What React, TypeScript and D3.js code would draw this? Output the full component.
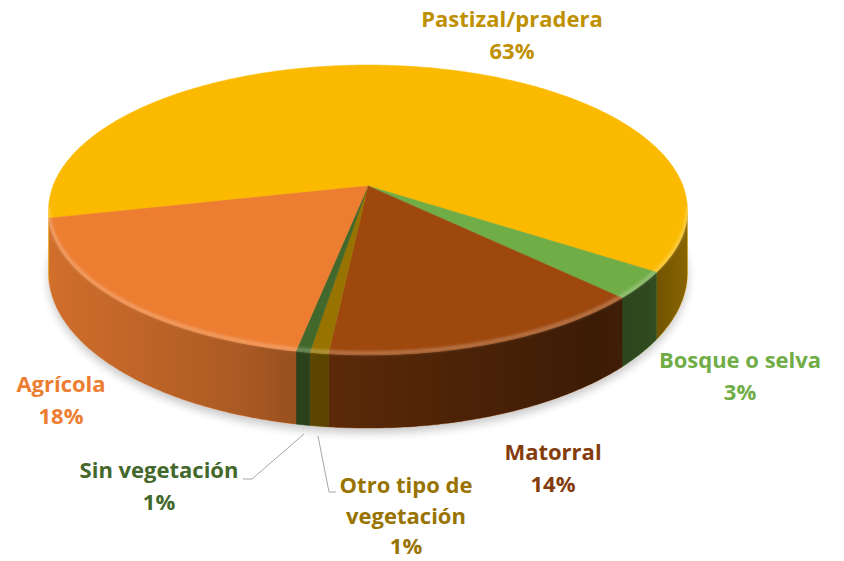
import React from "react";
import * as d3 from "d3";

// slice order clockwise, as in the source workbook
const categories = ["Pastizal/pradera", "Bosque o selva", "Matorral", "Otro tipo de vegetación", "Sin vegetación", "Agrícola"];
const values = [62.9, 3.0, 14.3, 0.8, 0.6, 18.4];
const topColors = ["#FBBA00", "#70AD47", "#9E480E", "#997300", "#43682B", "#ED7D31"];
const labelColors = ["#BF9000", "#70AD47", "#843C0C", "#997300", "#43682B", "#ED7D31"];
const labelLines = [["Pastizal/pradera"], ["Bosque o selva"], ["Matorral"], ["Otro tipo de", "vegetación"], ["Sin vegetación"], ["Agrícola"]];

// layout
const W = 844;
const HT = 561;
const cx = 368;
const cy = 186;
const R = 315; // horizontal radius at centre depth
const B = 141; // depth radius
const D = 6.04; // perspective distance (in radii)
const DEPTH = 61;
const START = (257.3 * Math.PI) / 180;
const VIS_L = (99.6 * Math.PI) / 180;
const VIS_R = (260.4 * Math.PI) / 180;
const labelPos: [number, number][] = [
  [512, 27],
  [740, 368],
  [553, 460],
  [406, 493],
  [159, 478],
  [61, 392],
];
const lineGap = [32, 32, 32, 30.5, 32, 32];

function project(theta: number, drop = 0): [number, number] {
  const u = Math.sin(theta);
  const v = -Math.cos(theta);
  const s = D / (D - v);
  return [cx + R * u * s, cy + B * v * s + drop * s];
}

function sample(a0: number, a1: number, drop = 0) {
  const n = Math.max(2, Math.ceil(Math.abs(a1 - a0) / 0.01));
  return d3.range(n + 1).map((i) => project(a0 + ((a1 - a0) * i) / n, drop));
}

const line = d3.line();

function sidePath(a0: number, a1: number) {
  const top = sample(a0, a1);
  const bot = sample(a0, a1, DEPTH).reverse();
  return line([...top, ...bot]) + "Z";
}

export default function App() {
  const pie = d3
    .pie<number>()
    .sort(null)
    .value((d) => d)
    .startAngle(START)
    .endAngle(START + 2 * Math.PI);
  const arcs = pie(values);

  // visible parts of the side wall
  const sides: { i: number; d: string }[] = [];
  arcs.forEach((a, i) => {
    for (let k = 0; k <= 2; k++) {
      const l = VIS_L + 2 * Math.PI * k;
      const r = VIS_R + 2 * Math.PI * k;
      const s0 = Math.max(a.startAngle, l);
      const s1 = Math.min(a.endAngle, r);
      if (s1 > s0) sides.push({ i, d: sidePath(s0, s1) });
    }
  });

  const shadow = line([...sample(VIS_L, VIS_R, DEPTH), ...sample(VIS_R, VIS_L + 2 * Math.PI, DEPTH)]) + "Z";
  const rim = line(sample(VIS_L, VIS_R));

  return (
    <svg width={W} height={HT} style={{ position: "absolute", left: 0, top: 0, background: "#fff" }}>
      <defs>
        <linearGradient id="sideShade" gradientUnits="userSpaceOnUse" x1={50} x2={690} y1={0} y2={0}>
          <stop offset="0" stopColor="#000" stopOpacity={0.12} />
          <stop offset="0.3" stopColor="#000" stopOpacity={0.28} />
          <stop offset="0.45" stopColor="#000" stopOpacity={0.43} />
          <stop offset="0.85" stopColor="#000" stopOpacity={0.62} />
          <stop offset="0.93" stopColor="#000" stopOpacity={0.58} />
          <stop offset="1" stopColor="#000" stopOpacity={0.45} />
        </linearGradient>
        <filter id="blur6" x="-20%" y="-20%" width="140%" height="140%">
          <feGaussianBlur stdDeviation={5} />
        </filter>
        <filter id="blur1" x="-5%" y="-20%" width="110%" height="140%">
          <feGaussianBlur stdDeviation={1.5} />
        </filter>
      </defs>

      <path d={shadow} transform="translate(0,5)" fill="#000" opacity={0.22} filter="url(#blur6)" />

      {sides.map((s, j) => (
        <path key={"s" + j} d={s.d} fill={topColors[s.i]} stroke={topColors[s.i]} strokeWidth={0.5} />
      ))}
      {sides.map((s, j) => (
        <path key={"o" + j} d={s.d} fill="url(#sideShade)" />
      ))}

      {arcs.map((a, i) => (
        <path
          key={"t" + i}
          d={line([[cx, cy], ...sample(a.startAngle, a.endAngle)]) + "Z"}
          fill={topColors[i]}
          stroke={topColors[i]}
          strokeWidth={0.5}
        />
      ))}
      <path d={rim ?? ""} fill="none" stroke="#fff" strokeOpacity={0.3} strokeWidth={3} filter="url(#blur1)" transform="translate(0,-2)" />

      {/* leader lines */}
      <polyline points="243,479 252,479 304,434" fill="none" stroke="#A6A6A6" strokeWidth={1} />
      <polyline points="318,436 329,492 336,492" fill="none" stroke="#A6A6A6" strokeWidth={1} />

      {arcs.map((a, i) => {
        const [x, y] = labelPos[i];
        const lines = [...labelLines[i], `${Math.round(values[i])}%`];
        return (
          <text
            key={"l" + i}
            x={x}
            y={y}
            textAnchor="middle"
            fill={labelColors[i]}
            fontFamily="'Open Sans', sans-serif"
            fontWeight="bold"
            fontSize={22}
          >
            {lines.map((t, k) => (
              <tspan key={k} x={x} dy={k === 0 ? 0 : lineGap[i]}>
                {t}
              </tspan>
            ))}
          </text>
        );
      })}
    </svg>
  );
}
